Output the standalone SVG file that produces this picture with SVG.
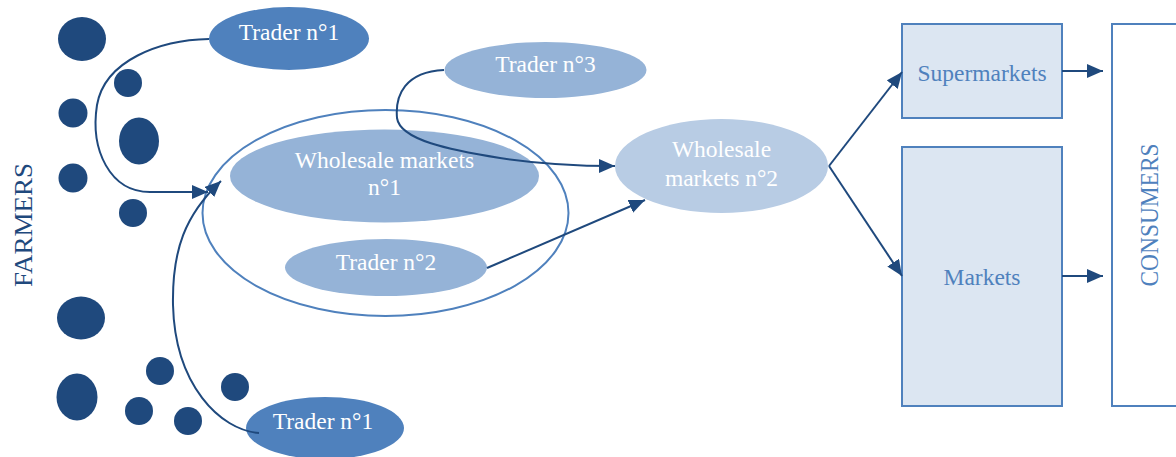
<svg xmlns="http://www.w3.org/2000/svg" width="1176" height="457" viewBox="0 0 1176 457">
<style>
.dot{fill:#1f497d}
.t{font-family:"Liberation Serif","Times New Roman",serif;font-size:23.5px;fill:#ffffff;text-anchor:middle}
.b{font-family:"Liberation Serif","Times New Roman",serif;font-size:23.5px;fill:#4f81bd;text-anchor:middle}
.c{fill:none;stroke:#1f497d;stroke-width:2}
.box{fill:#dce6f2;stroke:#4f81bd;stroke-width:2}
</style>
<defs>
<marker id="ah" markerWidth="16" markerHeight="14" refX="16" refY="7" orient="auto" markerUnits="userSpaceOnUse">
<path d="M0,0 L16,7 L0,14 z" fill="#1f497d"/>
</marker>
</defs>
<rect width="1176" height="457" fill="#ffffff"/>
<g id="farmers">
<text x="32" y="225" transform="rotate(-90 32 225)" font-family="'Liberation Serif','Times New Roman',serif" font-size="26" fill="#1f497d" text-anchor="middle" textLength="124" lengthAdjust="spacingAndGlyphs">FARMERS</text>
<ellipse class="dot" cx="82" cy="39" rx="24" ry="22"/>
<circle class="dot" cx="128" cy="83" r="14"/>
<circle class="dot" cx="73" cy="113" r="14.5"/>
<ellipse class="dot" cx="139" cy="141" rx="20" ry="23.5"/>
<circle class="dot" cx="73" cy="178" r="14.5"/>
<circle class="dot" cx="133" cy="213" r="14"/>
<ellipse class="dot" cx="81" cy="318" rx="24" ry="21.5"/>
<ellipse class="dot" cx="77" cy="397" rx="20.5" ry="23.5"/>
<circle class="dot" cx="160" cy="371" r="14"/>
<circle class="dot" cx="139" cy="411" r="14"/>
<circle class="dot" cx="188" cy="421" r="14"/>
<circle class="dot" cx="235" cy="387" r="14"/>
</g>
<g id="cluster">
<ellipse cx="385.5" cy="213" rx="183" ry="103" fill="none" stroke="#4f81bd" stroke-width="2"/>
</g>
<g id="wholesale1">
<ellipse cx="384.5" cy="176" rx="154.5" ry="46.5" fill="#95b3d7"/>
<text class="t" x="384.5" y="167.5">Wholesale markets</text>
<text class="t" x="384.5" y="195">n°1</text>
</g>
<g id="trader2">
<ellipse cx="386" cy="267.5" rx="101" ry="28.5" fill="#95b3d7"/>
<text class="t" x="386" y="270">Trader n°2</text>
</g>
<g id="trader1top">
<ellipse cx="289" cy="38.5" rx="80" ry="31.5" fill="#4f81bd"/>
<text class="t" x="289" y="40">Trader n°1</text>
</g>
<g id="trader1bottom">
<ellipse cx="325" cy="428" rx="79" ry="31" fill="#4f81bd"/>
<text class="t" x="323" y="429">Trader n°1</text>
</g>
<g id="trader3">
<ellipse cx="545.5" cy="70" rx="101" ry="28" fill="#95b3d7"/>
<text class="t" x="545.5" y="72">Trader n°3</text>
</g>
<g id="wholesale2">
<ellipse cx="721.5" cy="166" rx="106.5" ry="47" fill="#b8cce4"/>
<text class="t" x="721.5" y="156.5">Wholesale</text>
<text class="t" x="721.5" y="185.5">markets n°2</text>
</g>
<g id="supermarkets">
<rect class="box" x="902" y="24" width="160" height="94"/>
<text class="b" x="982" y="81">Supermarkets</text>
</g>
<g id="markets">
<rect class="box" x="902" y="147" width="160" height="259"/>
<text class="b" x="982" y="285">Markets</text>
</g>
<g id="consumers">
<rect x="1112" y="24" width="80" height="382" fill="#ffffff" stroke="#4f81bd" stroke-width="2"/>
<text x="1158" y="215" transform="rotate(-90 1158 215)" font-family="'Liberation Serif','Times New Roman',serif" font-size="25" fill="#4f81bd" text-anchor="middle" textLength="143" lengthAdjust="spacingAndGlyphs">CONSUMERS</text>
</g>
<g id="connectors">
<path class="c" d="M209,39 C160,40 105,60 97,105 C90,150 110,192 150,192 L208,192" marker-end="url(#ah)"/>
<path class="c" d="M259,433 C220,430 175,385 173,305 C172,250 185,215 221,181" marker-end="url(#ah)"/>
<path class="c" d="M444,70 C405,72 395,95 397,118 C400,140 450,150 500,158 C540,164 580,166 615,166" marker-end="url(#ah)"/>
<path class="c" d="M487,268 L645,200" marker-end="url(#ah)"/>
<path class="c" d="M829,166 L902,72" marker-end="url(#ah)"/>
<path class="c" d="M829,166 L902,276" marker-end="url(#ah)"/>
<path class="c" d="M1062,71 L1103,71" marker-end="url(#ah)"/>
<path class="c" d="M1062,276 L1103,276" marker-end="url(#ah)"/>
</g>
</svg>
